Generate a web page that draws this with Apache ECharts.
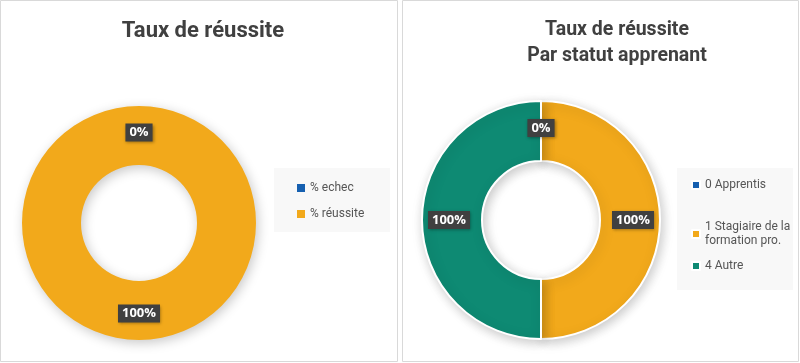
<!DOCTYPE html>
<html><head><meta charset="utf-8">
<script src="https://cdn.jsdelivr.net/npm/echarts@6/dist/echarts.min.js"></script>
<style>html,body{margin:0;padding:0;background:#fff}#c{width:800px;height:363px}</style>
</head><body><div id="c"></div>
<script>
const leftTitle = 'Taux de réussite';
const leftNames = ['% echec', '% réussite'];
const leftValues = [0, 100];
const rightTitle = 'Taux de réussite\nPar statut apprenant';
const rightNames = ['0 Apprentis', '1 Stagiaire de la formation pro.', '4 Autre'];
const rightValues = [0, 100, 100];

const BLUE = '#1660B0', GOLD = '#F2A91B', TEAL = '#0E8A73';
const leftColors = [BLUE, GOLD];
const rightColors = [BLUE, GOLD, TEAL];
const FONT = 'Open Sans';
const TFONT = 'Roboto';

const labelStyle = {
  show: true, position: 'inside',
  formatter: p => p.value + '%',
  color: '#fff', fontWeight: 'bold', fontSize: 13, fontFamily: FONT,
  backgroundColor: '#404040', padding: [3, 4, 2, 4],
  shadowColor: 'rgba(0,0,0,0.35)', shadowBlur: 3, shadowOffsetX: 1, shadowOffsetY: 1
};

const chart = echarts.init(document.getElementById('c'), null, {renderer: 'canvas'});
const legText = {color: '#555555', fontSize: 12, fontFamily: 'Roboto'};
chart.setOption({
  animation: false,
  title: [
    {text: leftTitle, left: 198, top: 15, textAlign: 'center',
     textStyle: {fontFamily: TFONT, fontWeight: 'bold', fontSize: 22, color: '#404040'}},
    {text: rightTitle, left: 612, top: 12, textAlign: 'center',
     textStyle: {fontFamily: TFONT, fontWeight: 'bold', fontSize: 19.5, color: '#404040', lineHeight: 26}}
  ],
  graphic: [
    {type: 'rect', shape: {x: 0.5, y: 0.5, width: 397, height: 361}, style: {fill: 'none', stroke: '#d9d9d9', lineWidth: 1}, z: -10},
    {type: 'rect', shape: {x: 402.5, y: 0.5, width: 396, height: 361}, style: {fill: 'none', stroke: '#d9d9d9', lineWidth: 1}, z: -10},
    {type: 'rect', shape: {x: 274, y: 168, width: 116, height: 64}, style: {fill: '#f8f8f8'}, z: -10},
    {type: 'rect', shape: {x: 677, y: 168, width: 116, height: 122}, style: {fill: '#f8f8f8'}, z: -10}
  ],
  legend: [
    {data: leftNames, orient: 'vertical', left: 292, top: 177, itemWidth: 8, itemHeight: 8, itemGap: 14,
     icon: 'rect', textStyle: legText},
    {data: [rightNames[0]], left: 686, top: 174, itemWidth: 8, itemHeight: 8, icon: 'rect', textStyle: legText},
    {data: [rightNames[1]], left: 686, top: 215, itemWidth: 8, itemHeight: 8, icon: 'rect',
     formatter: n => n.replace('de la ', 'de la\n'), textStyle: Object.assign({lineHeight: 14}, legText)},
    {data: [rightNames[2]], left: 686, top: 255, itemWidth: 8, itemHeight: 8, icon: 'rect', textStyle: legText}
  ],
  series: [
    {type: 'pie', center: [139, 223], radius: [58, 117], startAngle: 90, clockwise: true,
     avoidLabelOverlap: false, label: labelStyle, labelLine: {show: false},
     itemStyle: {shadowColor: 'rgba(0,0,0,0.22)', shadowBlur: 12, shadowOffsetX: 2, shadowOffsetY: 3},
     emphasis: {disabled: true},
     data: leftNames.map((n, i) => ({name: n, value: leftValues[i], itemStyle: {color: leftColors[i]}}))},
    {type: 'pie', center: [541, 220], radius: [59, 119], startAngle: 90, clockwise: true,
     avoidLabelOverlap: false, label: labelStyle, labelLine: {show: false},
     itemStyle: {borderColor: '#fff', borderWidth: 2, shadowColor: 'rgba(0,0,0,0.22)', shadowBlur: 12, shadowOffsetX: 2, shadowOffsetY: 3},
     emphasis: {disabled: true},
     data: rightNames.map((n, i) => ({name: n, value: rightValues[i], itemStyle: {color: rightColors[i]}}))}
  ]
});
</script></body></html>
